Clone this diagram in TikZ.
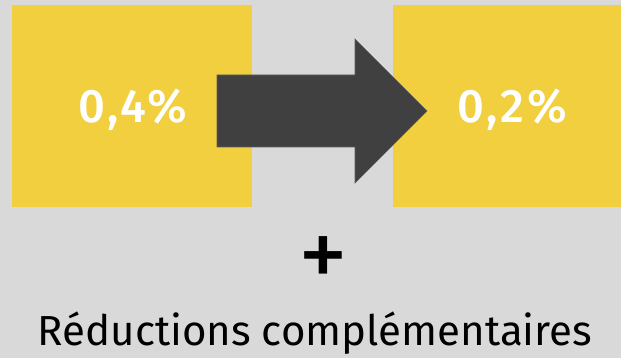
\documentclass[tikz,border=0pt]{standalone}
\usepackage{fontspec}
\setmainfont{Fira Sans}
\newfontfamily\pctfont[LetterSpace=6]{Fira Sans Medium}
\definecolor{bggray}{HTML}{D9D9D9}
\definecolor{tileyellow}{HTML}{F2CF3E}
\definecolor{arrowgray}{HTML}{404040}
\begin{document}
\begin{tikzpicture}[x=1pt,y=-1pt,
  tile/.style={fill=tileyellow,draw=none},
  pct/.style={text=white,font=\pctfont\fontsize{47}{50}\selectfont},
  bigarrow/.style={fill=arrowgray,draw=arrowgray!85!white,line width=0.6pt}]
  % background
  \fill[bggray] (0,0) rectangle (621,358);
  \useasboundingbox (0,0) rectangle (621,358);
  % yellow tiles
  \fill[tile] (12,5) rectangle (252,207);
  \fill[tile] (393,5) rectangle (621,207);
  % block arrow between the tiles
  \draw[bigarrow] (217,75) -- (355,75) -- (355,39) -- (427,111)
    -- (355,183) -- (355,147) -- (217,147) -- cycle;
  % values
  \node[pct] (before) at (133,110) {0,4\%};
  \node[pct] (after) at (512,110) {0,2\%};
  % plus sign and caption
  \node[font=\fontsize{100}{104}\selectfont] (plus) at (323,263) {+};
  \node[font=\fontsize{42}{46}\selectfont,anchor=base] (caption) at (315,345) {Réductions complémentaires};
\end{tikzpicture}
\end{document}
